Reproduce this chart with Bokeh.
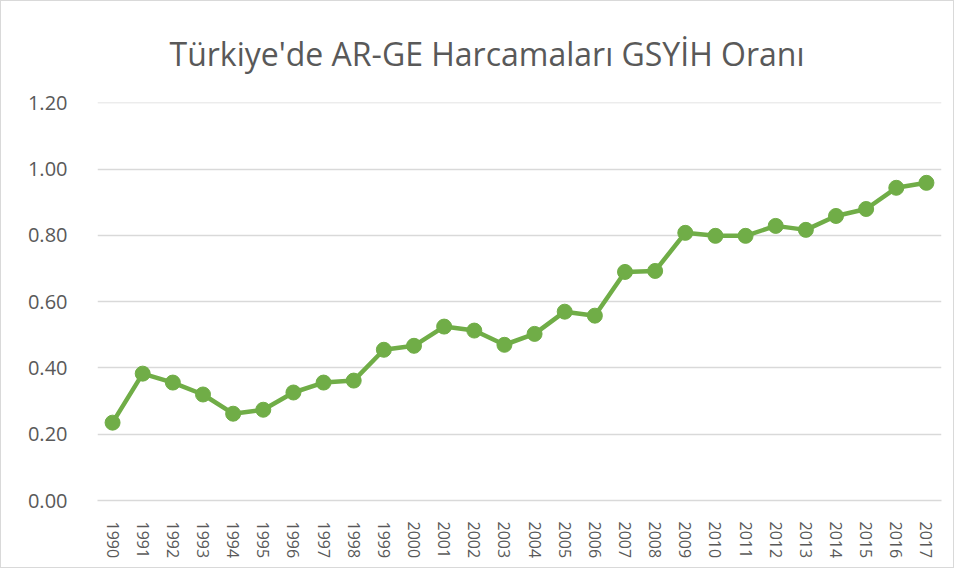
from bokeh.plotting import figure
from bokeh.models import ColumnDataSource, FixedTicker, Range1d, CustomJSTickFormatter
from bokeh.embed import file_html
from bokeh.resources import INLINE

years = [str(y) for y in range(1990, 2018)]
values = [0.235, 0.383, 0.356, 0.320, 0.262, 0.274, 0.326, 0.356, 0.362, 0.455,
          0.467, 0.525, 0.513, 0.470, 0.503, 0.570, 0.558, 0.690, 0.693, 0.808,
          0.799, 0.799, 0.829, 0.817, 0.859, 0.880, 0.944, 0.959]
y_ticks = [0.0, 0.2, 0.4, 0.6, 0.8, 1.0, 1.2]
title_text = "Türkiye'de AR-GE Harcamaları GSYİH Oranı"

src = ColumnDataSource(dict(year=years, val=values))

p = figure(width=954, height=568, x_range=years, y_range=Range1d(0, 1.2015),
           output_backend="svg", toolbar_location=None, title=title_text,
           min_border_left=96, min_border_right=14, min_border_top=101, min_border_bottom=69)
p.styles = {"border": "1px solid #d9d9d9"}
p.outline_line_color = None
p.background_fill_color = "white"
p.border_fill_color = "white"

p.title.align = "left"
p.title.offset = 72
p.title.standoff = 54
p.title.vertical_align = "middle"
p.title.text_font = "Open Sans"
p.title.text_font_size = "32px"
p.title.text_font_style = "normal"
p.title.text_color = "#595959"

p.line("year", "val", source=src, line_color="#70AD47", line_width=4.5)
p.scatter("year", "val", source=src, size=15, fill_color="#70AD47", line_color="#70AD47")

p.xgrid.grid_line_color = None
p.ygrid.grid_line_color = "#D9D9D9"
p.ygrid.grid_line_width = 1.3

p.yaxis.ticker = FixedTicker(ticks=y_ticks)
p.yaxis.formatter = CustomJSTickFormatter(code="return tick.toFixed(2);")
p.yaxis.axis_line_color = None
p.yaxis.major_tick_line_color = None
p.yaxis.minor_tick_line_color = None
p.yaxis.major_label_standoff = 24
p.yaxis.major_label_text_font = "Open Sans"
p.yaxis.major_label_text_font_size = "20px"
p.yaxis.major_label_text_color = "#595959"

p.xaxis.axis_line_color = "#D9D9D9"
p.xaxis.axis_line_width = 1.3
p.xaxis.major_tick_line_color = None
p.xaxis.minor_tick_line_color = None
p.xaxis.major_label_orientation = "vertical"
p.xaxis.major_label_standoff = 15
p.xaxis.major_label_text_font = "Open Sans"
p.xaxis.major_label_text_font_size = "16px"
p.xaxis.major_label_text_color = "#595959"

open("out.html", "w").write(file_html(p, INLINE))
